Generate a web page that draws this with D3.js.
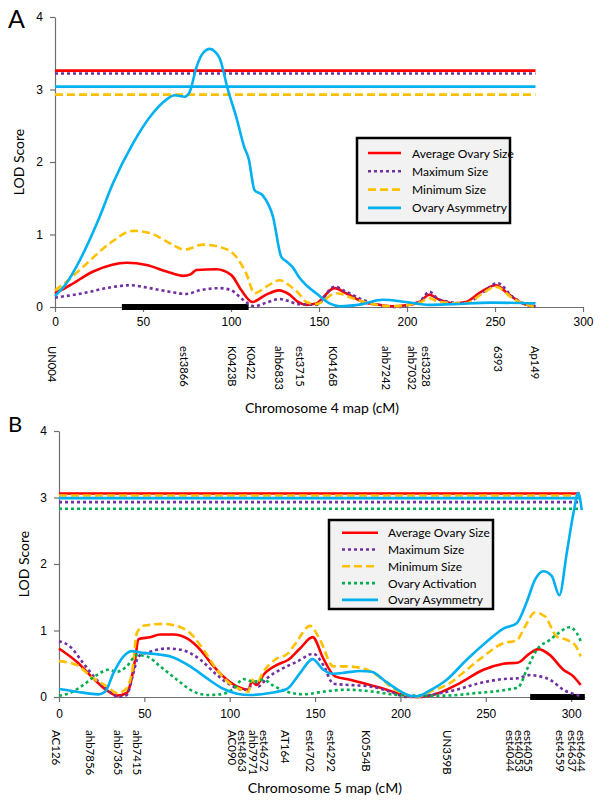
<!DOCTYPE html>
<html>
<head>
<meta charset="utf-8">
<script src="https://cdn.jsdelivr.net/npm/d3@7"></script>
<style>
  body { margin: 0; background: #fff; }
  svg { font-family: Lato, "Open Sans", sans-serif; }
  .tick text { fill: #000; font-size: 12px; }
</style>
</head>
<body>
<svg id="chart" width="600" height="800"></svg>
<script>
// legend names, colours and line styles shared by both panels
var seriesNames = ["Average Ovary Size", "Maximum Size", "Minimum Size", "Ovary Activation", "Ovary Asymmetry"];
var seriesColors = ["#ff0000", "#7030a0", "#ffc000", "#00b050", "#00b0f0"];
var seriesDash = [null, "3,3", "8,4", "3,3", null];

// chromosome 4 (panel A), [cM, LOD]
var chr4Avg = [[0,0.19],[8.5,0.3],[21.7,0.49],[32,0.58],[40.7,0.61],[52,0.58],[63.4,0.49],[72.8,0.43],[77,0.45],[80.4,0.51],[91.7,0.52],[100.2,0.44],[105.9,0.23],[112.1,0.07],[120,0.17],[127.2,0.23],[133.3,0.17],[138,0.07],[142.8,0.03],[148.4,0.05],[158.8,0.26],[165.4,0.19],[174.9,0.07],[184.3,0.03],[191.8,0.01],[207,0.07],[212.7,0.17],[218.4,0.1],[226,0.05],[233.5,0.07],[241,0.19],[250.5,0.3],[258,0.17],[265.6,0.05],[273,0.01]];
var chr4Max = [[0,0.13],[16,0.19],[31.2,0.27],[42.5,0.3],[53.9,0.26],[65.2,0.21],[74.7,0.18],[82.2,0.23],[93.6,0.26],[100.2,0.23],[106.8,0.1],[113.4,0.01],[120,0.06],[127.6,0.11],[133,0.08],[138,0.04],[148.4,0.03],[158.8,0.28],[165.4,0.21],[174.9,0.1],[188,0.01],[193.8,0],[207,0.07],[212.7,0.21],[218.4,0.1],[233.5,0.05],[243,0.2],[251.4,0.33],[260,0.14],[271.3,0.01],[273,0]];
var chr4Min = [[0,0.23],[6.6,0.35],[18,0.6],[31.2,0.88],[44.4,1.05],[53.9,1.02],[65.2,0.88],[73.7,0.79],[84.1,0.86],[93.6,0.83],[103,0.69],[108.7,0.46],[113.4,0.19],[120,0.28],[127.6,0.37],[133,0.3],[138,0.2],[142.8,0.07],[148.4,0.04],[159.8,0.19],[169.2,0.12],[178.7,0.05],[191.9,0.01],[207,0.06],[212.7,0.12],[218.4,0.07],[233.5,0.05],[242,0.17],[250.5,0.28],[260,0.12],[271.3,0.01],[273,0]];
var chr4Asym = [[0,0.15],[6.6,0.33],[14.2,0.65],[24.6,1.2],[33,1.71],[44.4,2.26],[53.9,2.62],[63.3,2.86],[68,2.92],[73.7,2.9],[76.6,2.97],[80.4,3.31],[84,3.5],[88,3.56],[91,3.52],[93.6,3.43],[98.3,2.99],[103,2.62],[107.6,2.2],[110,2.05],[113.4,1.61],[118,1.54],[123.8,1.25],[128.6,0.69],[131.4,0.63],[135,0.55],[139,0.4],[142.8,0.3],[148.4,0.19],[156,0.05],[161.7,0.01],[174.7,0.04],[186,0.1],[199.5,0.07],[212.7,0.03],[226,0.04],[248.5,0.06],[273,0.05]];
var chr4Thresholds = [3.26, 3.22, 2.93, 3.04];
var chr4Markers = ["UN004","est3866","K0423B","K0422","ahb6833","est3715","K0416B","ahb7242","ahb7032","est3328","6393","Ap149"];
var chr4MarkerPos = [0, 75, 102.5, 113.5, 129, 141, 160, 190, 205, 213, 253.5, 274.5];
var chr4Bar = [38, 110];

// chromosome 5 (panel B)
var chr5Avg = [[0,0.73],[10.4,0.53],[20.1,0.28],[28,0.1],[33.9,0.02],[39.7,0.06],[44.6,0.56],[46.5,0.87],[53.4,0.9],[59.3,0.94],[67.1,0.94],[75,0.88],[82.8,0.71],[90.6,0.46],[98.4,0.26],[106,0.14],[111,0.11],[112.9,0.23],[115.8,0.18],[119.7,0.33],[127.5,0.48],[134.3,0.56],[141.2,0.73],[148.6,0.9],[154.8,0.58],[161.7,0.31],[170.5,0.26],[182.2,0.18],[192,0.11],[201.7,0.03],[209.5,0],[221.3,0.05],[234.9,0.21],[248.6,0.41],[260.3,0.5],[269.1,0.52],[275,0.64],[280.8,0.72],[287.6,0.63],[295.4,0.41],[301.3,0.31],[305.6,0.18]];
var chr5Max = [[0,0.84],[6.4,0.76],[14.2,0.51],[22,0.26],[29.9,0.08],[34.8,0],[39.7,0.03],[43.6,0.36],[46.5,0.61],[53.4,0.68],[63.2,0.73],[73,0.7],[82.8,0.56],[92.6,0.33],[100.4,0.18],[108.2,0.11],[111,0.11],[113.9,0.26],[116.8,0.16],[121.7,0.28],[129.5,0.41],[139.3,0.53],[149,0.65],[154.8,0.48],[160.7,0.2],[170.5,0.18],[182.2,0.16],[193.9,0.08],[203.7,0],[211.5,0],[217.3,0.03],[233,0.11],[246.6,0.21],[260.3,0.27],[268.1,0.28],[276,0.33],[281.8,0.31],[287.6,0.26],[295.4,0.11],[303.3,0.03],[306,0.01]];
var chr5Min = [[0,0.54],[10.4,0.48],[20.1,0.28],[28,0.16],[33.9,0.06],[38.8,0.11],[42.7,0.36],[45.6,0.96],[49.5,1.07],[61.2,1.1],[69,1.07],[76.9,0.96],[84.7,0.71],[92.5,0.41],[100.3,0.2],[108.1,0.1],[111,0.08],[113,0.26],[115.8,0.21],[119.7,0.38],[126.5,0.56],[134.3,0.66],[139.2,0.83],[147,1.07],[152.9,0.86],[160.7,0.46],[168.5,0.46],[178.3,0.43],[186.1,0.33],[195.8,0.13],[203.7,0.03],[209.5,0],[217.3,0.08],[229,0.21],[238.8,0.41],[248.6,0.61],[260.3,0.81],[268.1,0.85],[273,1.06],[278.8,1.27],[284.7,1.21],[291.5,0.91],[297.4,0.86],[302.3,0.78],[305.6,0.61]];
var chr5Act = [[0,0.02],[6.4,0.06],[14.2,0.18],[22.1,0.33],[28.9,0.41],[33.8,0.38],[39.7,0.46],[45.6,0.63],[51.5,0.61],[59.3,0.46],[69.1,0.26],[78.9,0.08],[86.7,0.03],[94.5,0.04],[102.4,0.13],[108,0.27],[113.9,0.23],[119.7,0.26],[125.6,0.17],[133.4,0.08],[143.1,0.04],[154.8,0.08],[168.5,0.11],[184.1,0.08],[197.8,0.03],[209.5,0.02],[225.1,0.02],[244.7,0.06],[262.3,0.11],[269.1,0.15],[274,0.41],[279.9,0.71],[287.6,0.86],[292.5,0.96],[299,1.05],[303.3,0.96],[306,0.82]];
var chr5Asym = [[0,0.12],[10.4,0.08],[23,0.04],[27,0.08],[31.9,0.36],[37.8,0.61],[42.7,0.69],[47.5,0.67],[61.2,0.63],[65.2,0.61],[76.9,0.46],[86.7,0.28],[96.5,0.12],[104.3,0.05],[112,0.03],[123.6,0.06],[133.4,0.12],[141.2,0.36],[148.6,0.57],[154.8,0.41],[160.7,0.35],[168.5,0.37],[176.3,0.39],[183.2,0.38],[190,0.26],[197.8,0.12],[205.6,0.02],[209.5,0.01],[217.3,0.1],[227.1,0.26],[238.8,0.56],[250.5,0.83],[260.3,1.03],[268.1,1.11],[274,1.43],[278.8,1.76],[283.7,1.89],[288.6,1.82],[293.1,1.53],[297.4,2.16],[301.3,2.76],[304.2,3.07],[306.2,2.81]];
var chr5Thresholds = [3.06, 2.93, 3.03, 2.83, 2.99];
var chr5Markers = ["AC126","ahb7856","ahb7365","ahb7415","AC090","est4863","ahb7971","est4672","AT164","est4702","est4292","K0554B","UN359B","est4044","est4053","est4055","est4559","est4637","est4644"];
var chr5MarkerPos = [0, 20.5, 36.5, 48, 103.5, 109.5, 115.5, 122, 134.5, 149, 161.5, 182, 229.5, 266.5, 271.5, 276.5, 295.5, 302.5, 308];
var chr5Bar = [276, 308];

var yTicks = [0, 1, 2, 3, 4];
var xTicks = [0, 50, 100, 150, 200, 250, 300];

var svg = d3.select('#chart');

function drawPanel(p) {
  var g = svg.append('g');
  var x = d3.scaleLinear().domain([0, p.xMax]).range(p.xRange);
  var y = d3.scaleLinear().domain([0, 4]).range(p.yRange);

  // axes
  g.append('g')
    .attr('transform', 'translate(' + p.xRange[0] + ',0)')
    .call(d3.axisLeft(y).tickValues(yTicks).tickSize(5).tickSizeOuter(0).tickPadding(7).tickFormat(d3.format('d')))
    .call(a => a.selectAll('path,line').attr('stroke', '#6f6f6f').attr('stroke-width', 1.2));

  g.append('g')
    .attr('transform', 'translate(0,' + p.yRange[0] + ')')
    .call(d3.axisBottom(x).tickValues(xTicks).tickSize(5).tickSizeOuter(0).tickPadding(p.tickPad))
    .call(a => a.selectAll('path,line').attr('stroke', '#6f6f6f').attr('stroke-width', 1.2));

  // threshold lines
  p.series.forEach(function(s, i) {
    g.append('line')
      .attr('x1', x(0)).attr('x2', x(p.thrEnd))
      .attr('y1', y(p.thresholds[i])).attr('y2', y(p.thresholds[i]))
      .style('stroke', s.color)
      .style('stroke-width', 2.6)
      .style('stroke-dasharray', s.dash);
  });

  // QTL interval bar
  g.append('rect')
    .attr('x', x(p.bar[0]))
    .attr('width', x(p.bar[1]) - x(p.bar[0]))
    .attr('y', y(0) - 3)
    .attr('height', 6)
    .style('fill', '#000');

  var line = d3.line()
    .x(d => x(d[0]))
    .y(d => y(d[1]))
    .curve(d3.curveMonotoneX);

  g.selectAll('path.lod')
    .data(p.series)
    .enter()
    .append('path')
    .classed('lod', true)
    .attr('d', d => line(d.data))
    .style('fill', 'none')
    .style('stroke', d => d.color)
    .style('stroke-width', 2.6)
    .style('stroke-dasharray', d => d.dash);

  // marker names under the axis
  g.selectAll('text.marker')
    .data(p.markers)
    .enter()
    .append('text')
    .classed('marker', true)
    .attr('transform', (d, i) => 'translate(' + (x(p.markerPos[i]) - 3) + ',' + p.markerTop + ') rotate(90)')
    .attr('dominant-baseline', 'central')
    .style('font-size', p.markerSize + 'px')
    .text(d => d);

  g.append('text')
    .attr('x', (p.xRange[0] + p.xRange[1]) / 2 + 3)
    .attr('y', p.titleY)
    .attr('text-anchor', 'middle')
    .attr('dominant-baseline', 'central')
    .style('font-size', '14px')
    .text(p.xTitle);

  g.append('text')
    .attr('transform', 'translate(' + p.yTitleX + ',' + ((p.yRange[0] + p.yRange[1]) / 2) + ') rotate(-90)')
    .attr('text-anchor', 'middle')
    .attr('dominant-baseline', 'central')
    .style('font-size', '14px')
    .text('LOD Score');

  g.append('text')
    .attr('x', 8).attr('y', p.letterY)
    .style('font-size', p.letterSize + 'px')
    .text(p.letter);

  // legend
  var lg = g.append('g').attr('transform', 'translate(' + p.legend.x + ',' + p.legend.y + ')');
  lg.append('rect')
    .attr('width', p.legend.w).attr('height', p.legend.h)
    .style('fill', '#f2f2f2')
    .style('stroke', '#000')
    .style('stroke-width', 2.5);
  var rows = lg.selectAll('g.row')
    .data(p.series)
    .enter()
    .append('g')
    .attr('transform', (d, i) => 'translate(0,' + (p.legend.top + i * p.legend.step) + ')');
  rows.append('line')
    .attr('x1', p.legend.lx).attr('x2', p.legend.lx + p.legend.lw)
    .style('stroke', d => d.color)
    .style('stroke-width', 2.6)
    .style('stroke-dasharray', d => d.dash);
  rows.append('text')
    .attr('x', p.legend.tx)
    .attr('dominant-baseline', 'central')
    .style('font-size', '12px')
    .text(d => d.name);
}

function pick(idx, data) {
  return idx.map((k, i) => ({ name: seriesNames[k], color: seriesColors[k], dash: seriesDash[k], data: data[i] }));
}

drawPanel({
  letter: 'A', letterY: 28, letterSize: 25,
  xRange: [55, 583], xMax: 300, yRange: [307, 17],
  tickPad: 5,
  series: pick([0, 1, 2, 4], [chr4Avg, chr4Max, chr4Min, chr4Asym]),
  thresholds: chr4Thresholds, thrEnd: 273,
  bar: chr4Bar,
  markers: chr4Markers, markerPos: chr4MarkerPos, markerTop: 346, markerSize: 11.2,
  xTitle: 'Chromosome 4 map (cM)', titleY: 407,
  yTitleX: 18,
  legend: { x: 357, y: 138, w: 153, h: 85, top: 15, step: 18.3, lx: 11, lw: 33, tx: 55 }
});

drawPanel({
  letter: 'B', letterY: 432, letterSize: 22,
  xRange: [59, 584.8], xMax: 308, yRange: [697, 431],
  tickPad: 7,
  series: pick([0, 1, 2, 3, 4], [chr5Avg, chr5Max, chr5Min, chr5Act, chr5Asym]),
  thresholds: chr5Thresholds, thrEnd: 305,
  bar: chr5Bar,
  markers: chr5Markers, markerPos: chr5MarkerPos, markerTop: 730, markerSize: 11.5,
  xTitle: 'Chromosome 5 map (cM)', titleY: 787,
  yTitleX: 23,
  legend: { x: 329, y: 520, w: 164, h: 89, top: 12.7, step: 16.8, lx: 13, lw: 36, tx: 59 }
});
</script>
</body>
</html>
